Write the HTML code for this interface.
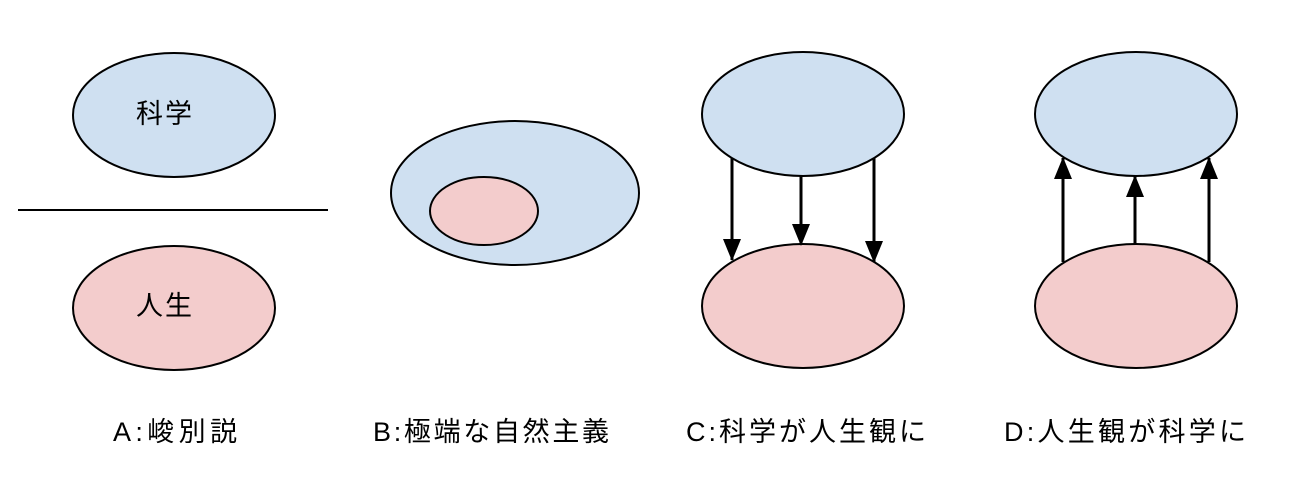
<!DOCTYPE html>
<html><head><meta charset="utf-8"><style>body{margin:0;background:#fff}svg{display:block}</style></head>
<body>
<svg width="1300" height="492" viewBox="0 0 1300 492" xmlns="http://www.w3.org/2000/svg" font-family="'Liberation Sans','Noto Sans CJK JP',sans-serif">
<defs><marker id="a" viewBox="0 0 22 18" refX="21" refY="9" markerWidth="22" markerHeight="18" markerUnits="userSpaceOnUse" orient="auto"><path d="M0,0 L22,9 L0,18 z" fill="#000"/></marker></defs>
<g stroke="#000" stroke-width="2">
<ellipse cx="174" cy="115" rx="101" ry="62" fill="#cfe0f1"/>
<ellipse cx="174" cy="308" rx="101" ry="62" fill="#f3cccc"/>
<line x1="18" y1="210" x2="328" y2="210"/>
<ellipse cx="515" cy="193" rx="124" ry="72" fill="#cfe0f1"/>
<ellipse cx="484" cy="211" rx="54" ry="34" fill="#f3cccc"/>
<ellipse cx="803" cy="114" rx="101" ry="62" fill="#cfe0f1"/>
<ellipse cx="803" cy="306" rx="101" ry="62" fill="#f3cccc"/>
<ellipse cx="1136" cy="114" rx="101" ry="62" fill="#cfe0f1"/>
<ellipse cx="1136" cy="306" rx="101" ry="62" fill="#f3cccc"/>
<g stroke-width="3">
<line x1="732" y1="158" x2="732" y2="260" marker-end="url(#a)"/>
<line x1="801" y1="176" x2="801" y2="245" marker-end="url(#a)"/>
<line x1="874" y1="158" x2="874" y2="262" marker-end="url(#a)"/>
<line x1="1063" y1="262" x2="1063" y2="158" marker-end="url(#a)"/>
<line x1="1135" y1="244" x2="1135" y2="176" marker-end="url(#a)"/>
<line x1="1209" y1="262" x2="1209" y2="158" marker-end="url(#a)"/>
</g></g>
<g font-size="27" fill="#000">
<text x="136" y="123" textLength="56">科学</text>
<text x="136" y="315" textLength="56">人生</text>
<text x="113" y="441" textLength="124">A:峻別説</text>
<text x="373" y="441" textLength="236">B:極端な自然主義</text>
<text x="686" y="441" textLength="240">C:科学が人生観に</text>
<text x="1004" y="441" textLength="242">D:人生観が科学に</text>
</g>
</svg>
</body></html>
